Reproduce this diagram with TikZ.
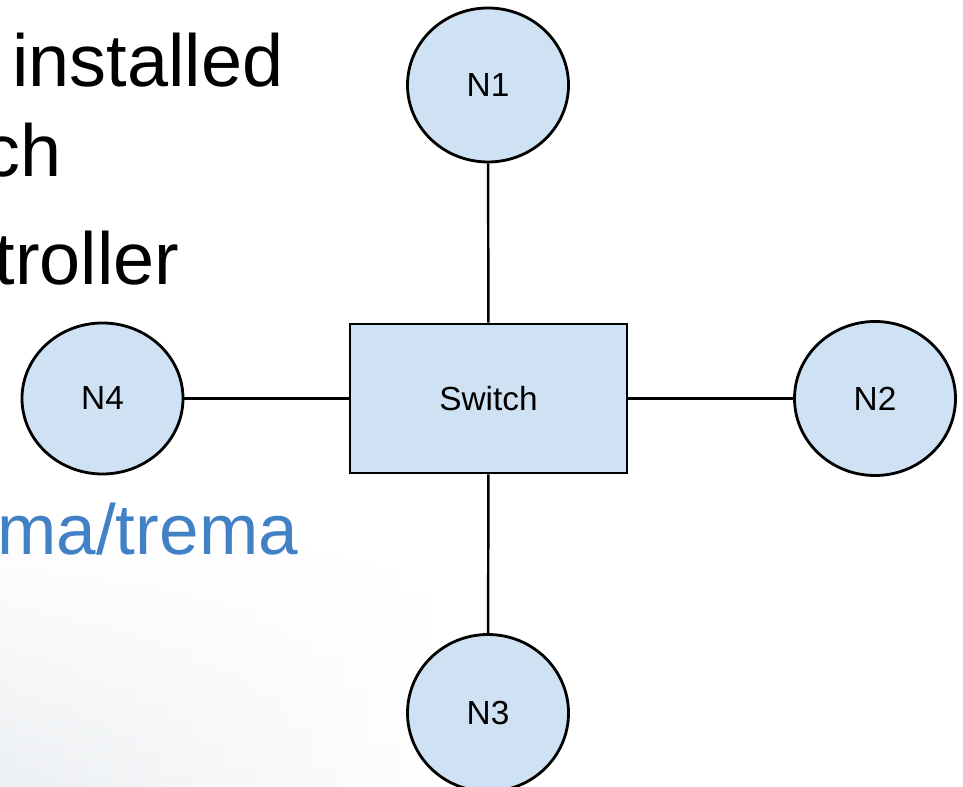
\documentclass[tikz,border=0pt]{standalone}
\usepackage{fontspec}
\setmainfont{Liberation Sans}
\usetikzlibrary{shapes.geometric}
\usetikzlibrary{fadings}

\definecolor{azulnodo}{HTML}{CFE2F3}
\definecolor{azultexto}{RGB}{66,129,198}
\definecolor{grisfondo}{RGB}{236,239,242}

\begin{document}
\begin{tikzpicture}
\tikzstyle{nodo red}=[draw,ellipse,fill=azulnodo,line width=1.6pt,minimum width=3.22cm,minimum height=3.08cm,inner sep=0pt,font=\fontsize{19}{22}\selectfont]
\tikzstyle{nodo switch}=[draw,rectangle,fill=azulnodo,line width=1.6pt,minimum width=5.54cm,minimum height=2.98cm,inner sep=0pt,font=\fontsize{19}{22}\selectfont]
\tikzstyle{texto lamina}=[anchor=base west,inner sep=0pt,font=\fontsize{42}{50}\selectfont]
\tikzstyle{enlace}=[line width=1.4pt]

\useasboundingbox (0,0) rectangle (19.26,15.74);
\clip (0,0) rectangle (19.26,15.74);

% fondo de la lamina
\shade[left color=grisfondo,right color=white,path fading=north] (0,0) rectangle (9.5,5.2);

\node[texto lamina] (t1) at (0.24,14.0) {installed};
\node[texto lamina] (t2) at (-0.34,12.2) {ch};
\node[texto lamina] (t3) at (-0.11,10.04) {troller};
\node[texto lamina,text=azultexto,font=\fontsize{40.5}{48}\selectfont] (t4) at (-0.06,4.64) {ma/trema};

\node[nodo switch] (sw) at (9.77,7.77) {Switch};
\node[nodo red] (n1) at (9.76,14.04) {N1};
\node[nodo red] (n2) at (17.5,7.77) {N2};
\node[nodo red,minimum height=3.14cm] (n3) at (9.76,1.48) {N3};
\node[nodo red,minimum height=3.02cm] (n4) at (2.05,7.77) {N4};

\draw[enlace] (n1) -- (sw);
\draw[enlace] (sw) -- (n2);
\draw[enlace] (sw) -- (n3);
\draw[enlace] (n4) -- (sw);
\end{tikzpicture}
\end{document}
